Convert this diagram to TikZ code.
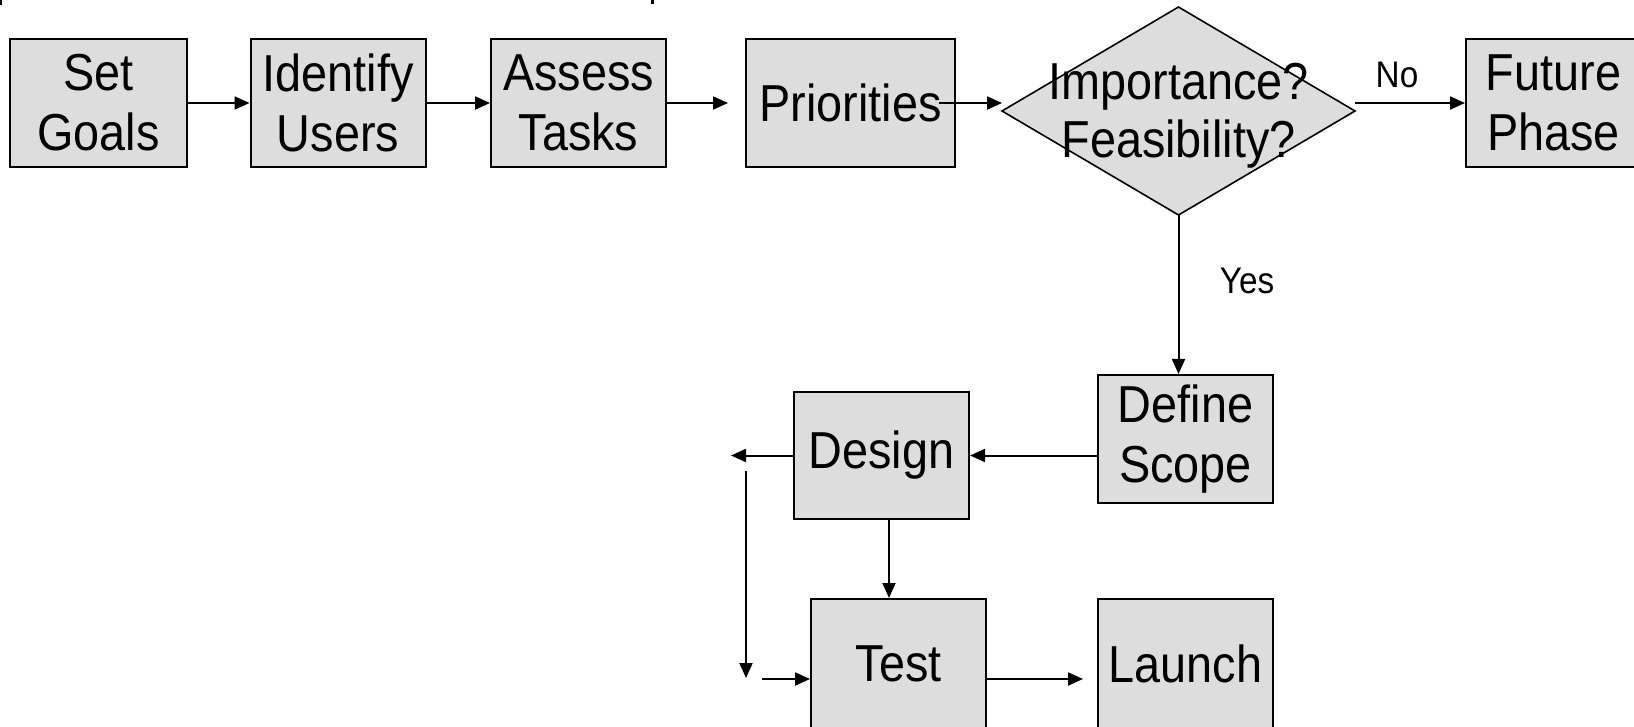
\documentclass[tikz,border=0pt]{standalone}
\usepackage{fontspec}
\setmainfont{Liberation Sans}[FakeStretch=0.9]
\usetikzlibrary{arrows.meta}
\definecolor{boxfill}{RGB}{221,221,221}
\begin{document}
\begin{tikzpicture}[x=1pt,y=-1pt,
  box/.style={draw=black, line width=2pt, fill=boxfill, rectangle, inner sep=0pt,
    minimum width=175pt, minimum height=128pt, align=center,
    font=\fontsize{52}{60}\selectfont},
  conn/.style={line width=2pt, -{Triangle[length=15pt,width=13pt]}},
  lbl/.style={font=\fontsize{37}{44}\selectfont, inner sep=0pt}]
\useasboundingbox (0,0) rectangle (1634,727);
\fill[white] (0,0) rectangle (1634,727);
% cut-off fragments at the top edge
\fill (0,0) rectangle (2,5);
\fill (651,0) rectangle (654,4);
% boxes
\node[box, minimum width=177pt] (goals) at (98.5,103) {Set\\Goals};
\node[box] (users) at (338,103) {Identify\\Users};
\node[box] (tasks) at (578.5,103) {Assess\\Tasks};
\node[box, minimum width=209pt] (prio) at (850.5,103) {Priorities};
% diamond
\coordinate (dl) at (1002,111);
\coordinate (dt) at (1178.5,7);
\coordinate (dr) at (1355,111);
\coordinate (db) at (1178.5,215);
\draw[line width=1.6pt, fill=boxfill] (dl) -- (dt) -- (dr) -- (db) -- cycle;
\node[font=\fontsize{52}{58}\selectfont, align=center, inner sep=0pt] (dtext) at (1178.5,116) {Importance?\\Feasibility?};
\node[box] (future) at (1553.5,103) {Future\\Phase};
\node[box] (scope) at (1185.5,439) {Define\\Scope};
\node[box, minimum height=127pt] (design) at (881.5,455.5) {Design};
\node[box, minimum height=130pt] (test) at (898.5,664) {Test};
\node[box, minimum height=130pt] (launch) at (1185.5,664) {Launch};
% connectors
\draw[conn] (goals.east) -- (users.west);
\draw[conn] (users.east) -- (tasks.west);
\draw[conn, shorten >=17pt] (tasks.east) -- (prio.west);
\draw[conn] ([xshift=-17pt]prio.east) -- (dl |- prio.east);
\draw[conn] (dr |- future.west) -- (future.west);
\node[lbl] (no) at (1397,75) {No};
\draw[conn] (db) -- (db |- scope.north);
\node[lbl] (yes) at (1247,281) {Yes};
\draw[conn] (scope.west |- design.west) -- (design.east);
\coordinate (lout) at (731,455.5);
\draw[conn] (design.west) -- (lout);
\coordinate (vtop) at (746,471);
\coordinate (vbot) at (746,678);
\draw[conn] (vtop) -- (vbot);
\coordinate (tin) at (762,679);
\draw[conn] (tin) -- (test.west |- tin);
\coordinate (dtx) at (889,0);
\draw[conn] (design.south -| dtx) -- (test.north -| dtx);
\draw[conn, shorten >=14pt] (test.east |- tin) -- (launch.west |- tin);
\end{tikzpicture}
\end{document}
